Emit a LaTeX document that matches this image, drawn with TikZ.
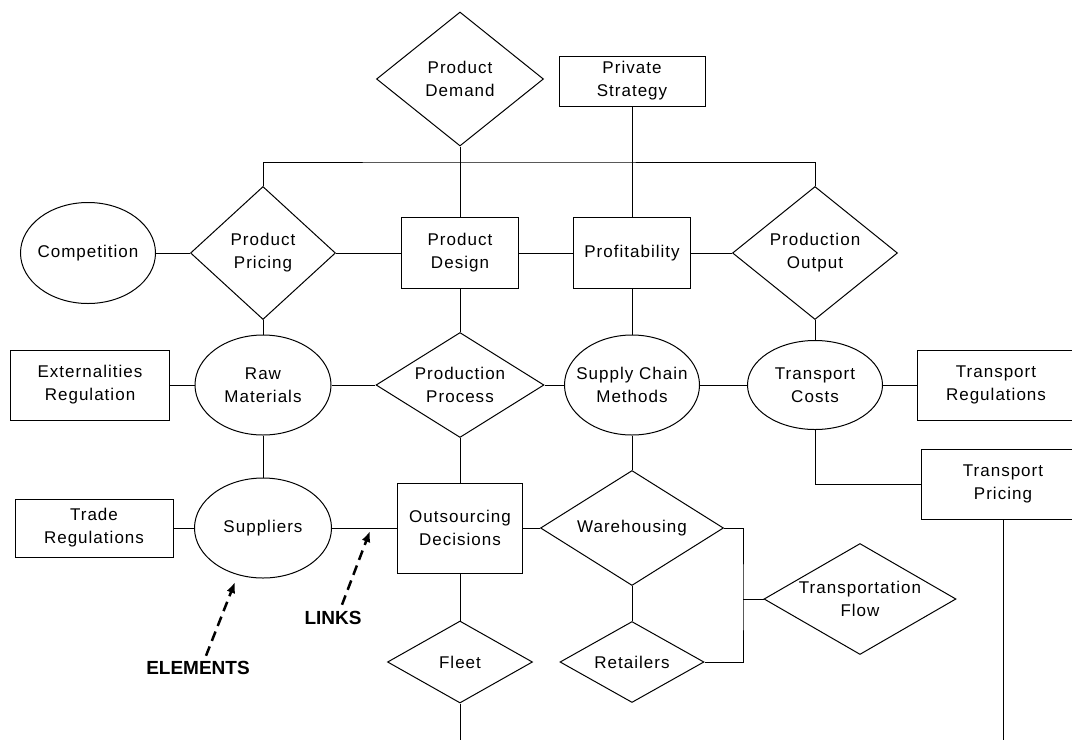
\documentclass[tikz,border=0pt]{standalone}
\usepackage{fontspec}
\usepackage{tikz}
\usetikzlibrary{shapes.geometric, arrows.meta}
\newfontfamily\boxfont{Liberation Sans}[LetterSpace = 6]
\newfontfamily\tagfont{Liberation Sans}

\begin{document}
\begin{tikzpicture}[x = 1pt, y = -1pt, line width = 1pt,
    font = \boxfont\fontsize{17}{23}\selectfont,
    every node/.style = {align = center, inner sep = 0pt},
    box/.style = {draw, rectangle},
    oval/.style = {draw, ellipse, inner xsep = -40pt, inner ysep = -20pt},
    rhomb/.style = {draw, diamond, inner xsep = -50pt, inner ysep = -20pt},
    tag/.style = {font = \tagfont\bfseries\fontsize{19}{22}\selectfont},
    pointer/.style = {line width = 2.5pt, dash pattern = on 10pt off 6pt,
        -{Latex[length = 11pt, width = 9pt]}}]
    \useasboundingbox (0,0) rectangle (1072,740);

    % top
    \node [rhomb, minimum width = 167, minimum height = 134] (demand) at (460,79) {Product\\Demand};
    \node [box, minimum width = 146, minimum height = 50] (strategy) at (632,81) {Private\\Strategy};

    % first row
    \node [oval, minimum width = 135, minimum height = 101] (competition) at (88,253) {Competition};
    \node [rhomb, minimum width = 145, minimum height = 133] (pricing) at (263,253) {Product\\Pricing};
    \node [box, minimum width = 117, minimum height = 71] (design) at (460,253) {Product\\Design};
    \node [box, minimum width = 117, minimum height = 71] (profit) at (632,253) {Profitability};
    \node [rhomb, minimum width = 165, minimum height = 133] (output) at (815,253) {Production\\Output};

    % second row
    \node [box, minimum width = 159, minimum height = 70] (extreg) at (90,385) {Externalities\\Regulation};
    \node [oval, minimum width = 136, minimum height = 100] (rawmat) at (263,385) {Raw\\Materials};
    \node [rhomb, minimum width = 168, minimum height = 105] (process) at (460,385) {Production\\Process};
    \node [oval, minimum width = 135, minimum height = 100] (supply) at (632,385) {Supply Chain\\Methods};
    \node [oval, minimum width = 135, minimum height = 89] (tcosts) at (815,385) {Transport\\Costs};
    \node [box, minimum width = 158, minimum height = 70] (treg) at (996,385) {Transport\\Regulations};
    \node [box, minimum width = 164, minimum height = 70] (tpricing) at (1003,484) {Transport\\Pricing};

    % third row
    \node [box, minimum width = 158, minimum height = 58] (tradereg) at (94,528) {Trade\\Regulations};
    \node [oval, minimum width = 137, minimum height = 100] (suppliers) at (263,528) {Suppliers};
    \node [box, minimum width = 125, minimum height = 90] (outsrc) at (460,528) {Outsourcing\\Decisions};
    \node [rhomb, minimum width = 183, minimum height = 115] (warehouse) at (632,528) {Warehousing};
    \node [rhomb, minimum width = 192, minimum height = 111] (flow) at (860,599) {Transportation\\Flow};

    % bottom
    \node [rhomb, minimum width = 145, minimum height = 82] (fleet) at (460,662) {Fleet};
    \node [rhomb, minimum width = 144, minimum height = 81] (retailers) at (632,662) {Retailers};

    \node [tag] (elemlbl) at (198,668) {ELEMENTS};
    \node [tag] (linklbl) at (333,618) {LINKS};

    \coordinate (bus) at (460,162);
    \coordinate (fork) at (743,599);
    \coordinate (fleetend) at (460,740);
    \coordinate (pricingend) at (1003,740);
    \coordinate (elemtip) at (235,582);
    \coordinate (linktip) at (370,531);

    % links
    \draw (pricing.north) |- (bus) -| (output.north);
    \draw (demand) -- (design);
    \draw (strategy) -- (profit);
    \draw (competition) -- (pricing) -- (design) -- (profit) -- (output);
    \draw (pricing) -- (rawmat);
    \draw (design) -- (process);
    \draw (profit) -- (supply);
    \draw (output) -- (tcosts);
    \draw (extreg) -- (rawmat) -- (process) -- (supply) -- (tcosts) -- (treg);
    \draw (tcosts.south) |- (tpricing.west);
    \draw (tpricing) -- (pricingend);
    \draw (rawmat) -- (suppliers);
    \draw (process) -- (outsrc);
    \draw (supply) -- (warehouse);
    \draw (tradereg) -- (suppliers) -- (outsrc) -- (warehouse);
    \draw (outsrc) -- (fleet);
    \draw (fleet) -- (fleetend);
    \draw (warehouse) -- (retailers);
    \draw (warehouse.east) -| (fork) |- (retailers.east);
    \draw (fork) -- (flow.west);

    \draw [pointer] ([xshift = 8pt, yshift = 5pt]elemlbl.north) -- (elemtip);
    \draw [pointer] ([xshift = 9pt, yshift = 6pt]linklbl.north) -- (linktip);
\end{tikzpicture}
\end{document}
